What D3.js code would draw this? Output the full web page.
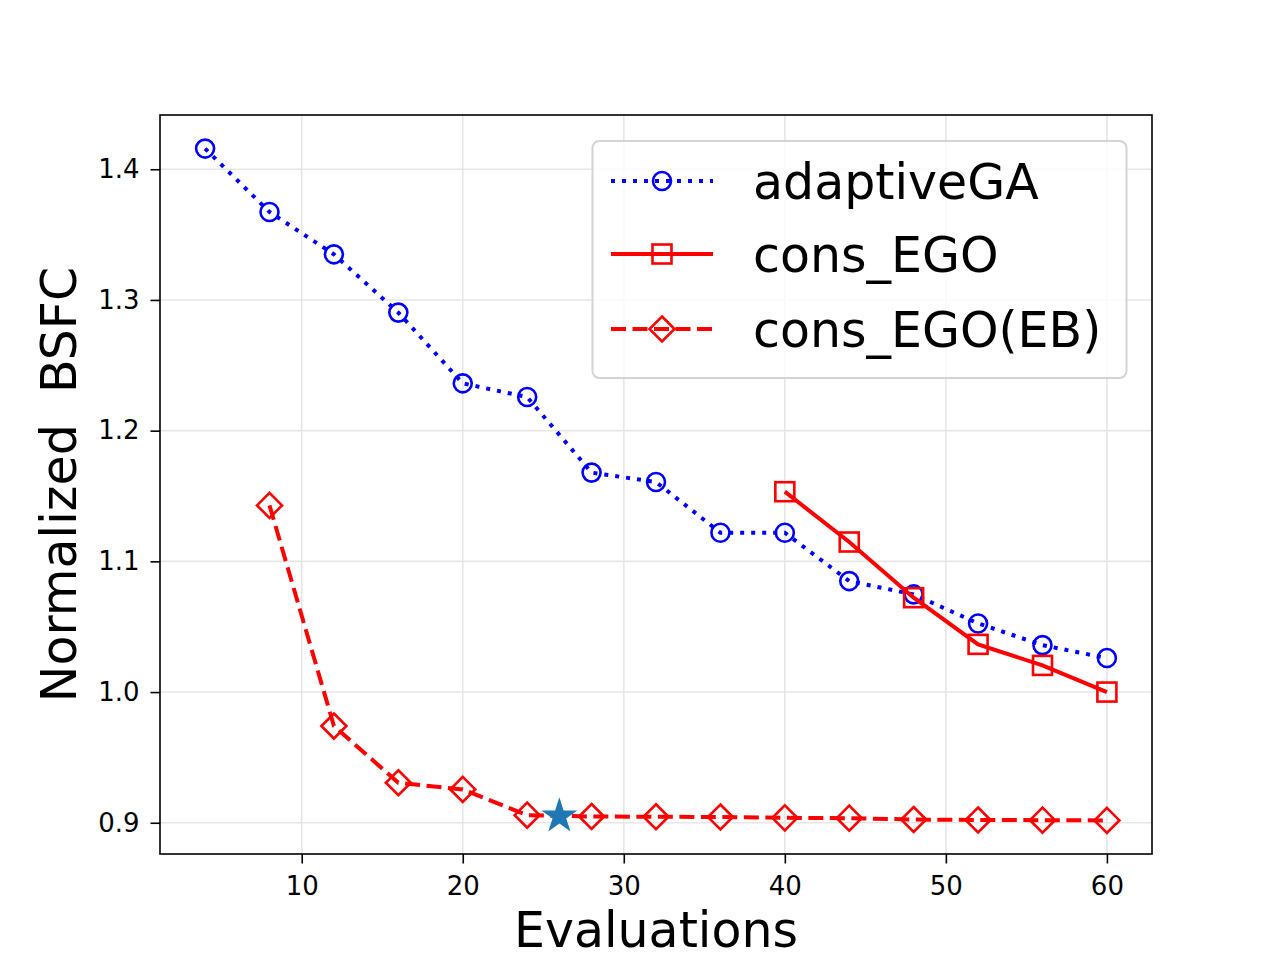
<!DOCTYPE html>
<html>
<head>
  <meta charset="UTF-8">
  <style>
    body { margin: 0; padding: 0; background: #fff; }
    svg { display: block; font-family: "DejaVu Sans", sans-serif; }
    .grid line { stroke: #e6e6e6; stroke-width: 1.6; }
  </style>
</head>
<body>
  <svg width="1280" height="960"></svg>
  <script src="https://d3js.org/d3.v7.min.js"></script>
  <script>
    // evaluations (x) and the three series
    const evals = [4, 8, 12, 16, 20, 24, 28, 32, 36, 40, 44, 48, 52, 56, 60];
    const adaptiveGA = [1.4158, 1.3673, 1.3349, 1.2903, 1.2362, 1.2257, 1.1679, 1.1607,
                        1.1219, 1.1219, 1.0849, 1.0747, 1.0525, 1.0359, 1.0260];
    const consEGOx = [40, 44, 48, 52, 56, 60];
    const consEGO = [1.1533, 1.1148, 1.0722, 1.0365, 1.0204, 1.0000];
    const consEBx = [8, 12, 16, 20, 24, 28, 32, 36, 40, 44, 48, 52, 56, 60];
    const consEB = [1.1428, 0.9740, 0.9306, 0.9255, 0.9058, 0.9048, 0.9046, 0.9044,
                    0.9038, 0.9035, 0.9025, 0.9021, 0.9020, 0.9018];
    const bestPoint = [26, 0.905];
    const xTicks = [10, 20, 30, 40, 50, 60];
    const yTicks = [0.9, 1.0, 1.1, 1.2, 1.3, 1.4];
    const seriesNames = ["adaptiveGA", "cons_EGO", "cons_EGO(EB)"];

    const pLeft = 160, pRight = 1152, pTop = 115, pBottom = 854;
    const svg = d3.select("svg");

    // matplotlib style 5% margins
    const xMin = d3.min(evals), xMax = d3.max(evals);
    const allY = adaptiveGA.concat(consEGO, consEB);
    const yMin = d3.min(allY), yMax = d3.max(allY);
    const xPad = (xMax - xMin) * 0.05, yPad = (yMax - yMin) * 0.05;

    const x = d3.scaleLinear().domain([xMin - xPad, xMax + xPad]).range([pLeft, pRight]);
    const y = d3.scaleLinear().domain([yMin - yPad, yMax + yPad]).range([pBottom, pTop]);

    // grid
    const grid = svg.append("g").attr("class", "grid");
    grid.selectAll(".gx").data(xTicks).enter().append("line")
        .attr("x1", d => x(d)).attr("x2", d => x(d))
        .attr("y1", pTop).attr("y2", pBottom);
    grid.selectAll(".gy").data(yTicks).enter().append("line")
        .attr("x1", pLeft).attr("x2", pRight)
        .attr("y1", d => y(d)).attr("y2", d => y(d));

    // axes
    const xAxis = svg.append("g")
        .attr("transform", `translate(0,${pBottom})`)
        .call(d3.axisBottom(x).tickValues(xTicks).tickSize(9.5).tickPadding(13.5).tickFormat(d3.format("d")));
    const yAxis = svg.append("g")
        .attr("transform", `translate(${pLeft},0)`)
        .call(d3.axisLeft(y).tickValues(yTicks).tickSize(9.5).tickPadding(11).tickFormat(d3.format(".1f")));
    [xAxis, yAxis].forEach(a => {
      a.select(".domain").remove();
      a.selectAll(".tick line").attr("stroke", "#000").attr("stroke-width", 1.6);
      a.selectAll(".tick text").attr("fill", "#000").style("font-size", "26px")
          .style("font-family", "DejaVu Sans");
    });

    // frame
    svg.append("rect")
        .attr("x", pLeft).attr("y", pTop)
        .attr("width", pRight - pLeft).attr("height", pBottom - pTop)
        .attr("fill", "none").attr("stroke", "#000").attr("stroke-width", 1.6);

    // labels
    svg.append("text")
        .attr("x", (pLeft + pRight) / 2).attr("y", 947)
        .attr("text-anchor", "middle")
        .style("font-size", "49px")
        .text("Evaluations");
    svg.append("text")
        .attr("transform", `translate(76,${(pTop + pBottom) / 2}) rotate(-90)`)
        .attr("text-anchor", "middle")
        .style("font-size", "49px")
        .style("white-space", "pre")
        .text("Normalized  BSFC");

    const line = d3.line().x(d => x(d[0])).y(d => y(d[1]));
    const gaPts = evals.map((e, i) => [e, adaptiveGA[i]]);
    const egoPts = consEGOx.map((e, i) => [e, consEGO[i]]);
    const ebPts = consEBx.map((e, i) => [e, consEB[i]]);

    const styles = [
      { color: "blue", width: 4, dash: "4,7", marker: "circle" },
      { color: "red", width: 4, dash: null, marker: "square" },
      { color: "red", width: 4, dash: "15,6.5", marker: "diamond" }
    ];

    function drawMarker(g, kind, cx, cy, color) {
      if (kind === "circle") {
        g.append("circle").attr("cx", cx).attr("cy", cy).attr("r", 9)
            .attr("fill", "none").attr("stroke", color).attr("stroke-width", 2.6);
      } else if (kind === "square") {
        g.append("rect").attr("x", cx - 9.5).attr("y", cy - 9.5)
            .attr("width", 19).attr("height", 19)
            .attr("fill", "none").attr("stroke", color).attr("stroke-width", 2.6);
      } else {
        const h = 12.5;
        g.append("path")
            .attr("d", `M${cx},${cy - h}L${cx + h},${cy}L${cx},${cy + h}L${cx - h},${cy}Z`)
            .attr("fill", "none").attr("stroke", color).attr("stroke-width", 2.6);
      }
    }

    const plot = svg.append("g");
    [gaPts, egoPts, ebPts].forEach((pts, i) => {
      const s = styles[i];
      const g = plot.append("g");
      g.append("path").datum(pts)
          .attr("d", line)
          .attr("fill", "none")
          .attr("stroke", s.color)
          .attr("stroke-width", s.width)
          .attr("stroke-dasharray", s.dash);
      pts.forEach(p => drawMarker(g, s.marker, x(p[0]), y(p[1]), s.color));
    });

    // best point star
    plot.append("path")
        .attr("d", d3.symbol().type(d3.symbolStar).size(400)())
        .attr("transform", `translate(${x(bestPoint[0])},${y(bestPoint[1])})`)
        .attr("fill", "#1f77b4");

    // legend
    const lg = svg.append("g");
    lg.append("rect")
        .attr("x", 592.5).attr("y", 141)
        .attr("width", 534).attr("height", 237)
        .attr("rx", 7)
        .attr("fill", "rgba(255,255,255,0.8)")
        .attr("stroke", "#d4d4d4").attr("stroke-width", 2);
    const rowY = [181, 254, 329];
    seriesNames.forEach((name, i) => {
      const s = styles[i];
      lg.append("line")
          .attr("x1", 611).attr("x2", 713)
          .attr("y1", rowY[i]).attr("y2", rowY[i])
          .attr("stroke", s.color).attr("stroke-width", s.width)
          .attr("stroke-dasharray", s.dash);
      drawMarker(lg, s.marker, 662, rowY[i], s.color);
      lg.append("text")
          .attr("x", 753).attr("y", rowY[i])
          .attr("dy", "0.36em")
          .style("font-size", "49px")
          .text(name);
    });
  </script>
</body>
</html>
